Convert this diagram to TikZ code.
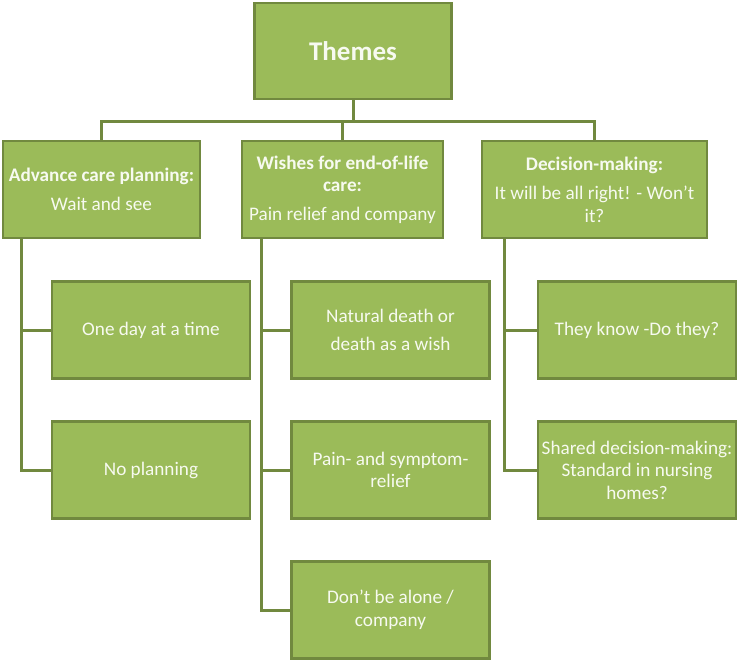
\documentclass[tikz,border=0pt]{standalone}
\usepackage{fontspec}
\setmainfont{Carlito}
\usepackage{tikz}
\usetikzlibrary{calc,positioning}
\definecolor{leaf}{HTML}{9BBB59}
\definecolor{leafdk}{HTML}{71893F}
\definecolor{leaftx}{HTML}{F7FAF0}
\tikzset{
  box/.style={draw=leafdk,line width=2.6pt,fill=leaf,text=leaftx,align=center,inner sep=2pt,font=\fontsize{19.2}{22.5}\selectfont},
  lnk/.style={draw=leafdk,line width=3pt},
  top/.style={box,minimum height=97pt},
  sub/.style={box,minimum width=198pt,minimum height=97pt}
}
\begin{document}
\begin{tikzpicture}[x=1pt,y=-1pt]
\useasboundingbox (0,0) rectangle (738,661);
\node[box,minimum width=197pt,minimum height=96pt,font=\fontsize{27}{32}\selectfont\bfseries] (themes) at (353,51) {Themes};
\node[top,minimum width=197pt] (acp) at (101.5,189.5) {\textbf{Advance care planning:}\\[6pt]Wait and see};
\node[top,minimum width=201pt] (wish) at (342.5,189.5) {\textbf{Wishes for end-of-life}\\\textbf{care:}\\[6pt]Pain relief and company};
\node[top,minimum width=225pt] (dec) at (594.5,189.5) {\textbf{Decision-making:}\\[7pt]It will be all right! - Won’t\\it?};
\node[sub] (day) at (151,330) {One day at a time};
\node[sub] (noplan) at (151,470) {No planning};
\node[sub] (natural) at (390.5,330) {Natural death or\\[6pt]death as a wish};
\node[sub] (pain) at (390.5,470) {Pain- and symptom-\\relief};
\node[sub] (alone) at (390.5,610) {Don’t be alone /\\company};
\node[sub] (know) at (637,330) {They know -Do they?};
\node[sub] (shared) at (637,470) {Shared decision-making:\\Standard in nursing\\homes?};
\draw[lnk] (themes.south) -- ++(0,21) -| (acp.north);
\draw[lnk] (themes.south) -- ++(0,21) -| (wish.north);
\draw[lnk] (themes.south) -- ++(0,21) -| (dec.north);
\draw[lnk] ([xshift=20pt]acp.south west) |- (day.west);
\draw[lnk] ([xshift=20pt]acp.south west) |- (noplan.west);
\draw[lnk] ([xshift=21pt]wish.south west) |- (natural.west);
\draw[lnk] ([xshift=21pt]wish.south west) |- (pain.west);
\draw[lnk] ([xshift=21pt]wish.south west) |- (alone.west);
\draw[lnk] ([xshift=24pt]dec.south west) |- (know.west);
\draw[lnk] ([xshift=24pt]dec.south west) |- (shared.west);
\end{tikzpicture}
\end{document}
